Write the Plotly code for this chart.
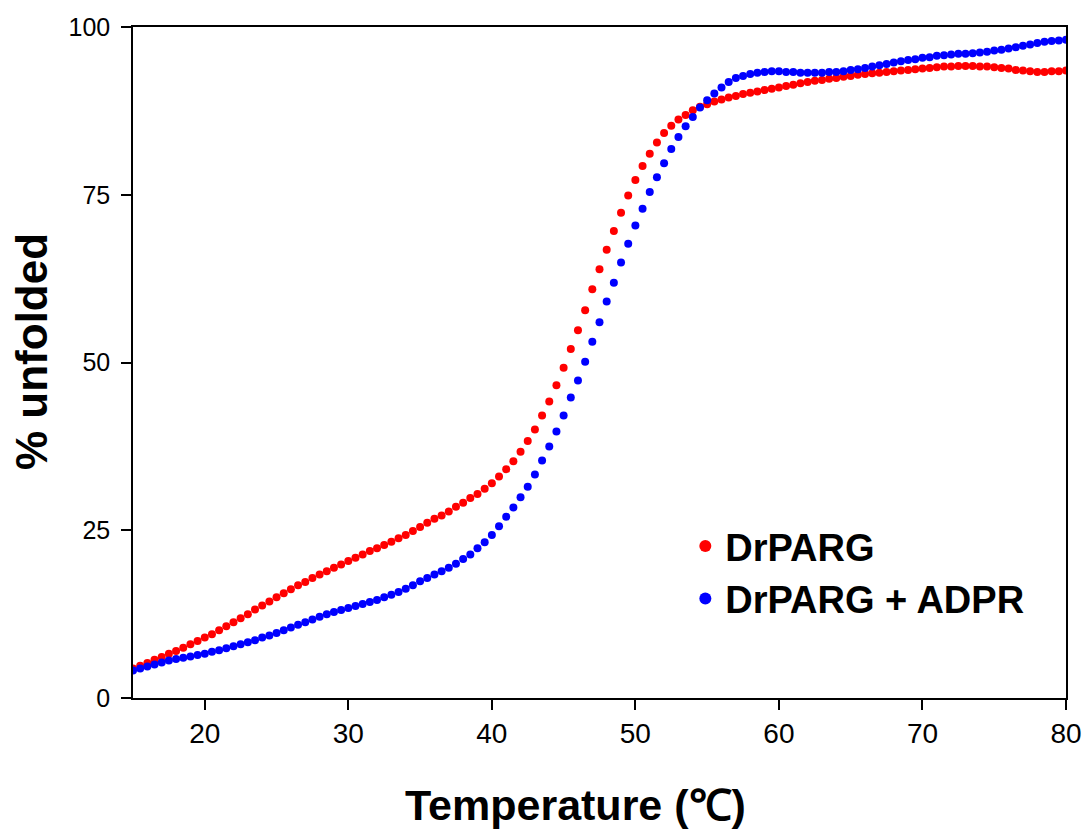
import plotly.graph_objects as go

# Temperature grid (°C), 0.5 °C steps from 15 to 80
temperature = [15 + 0.5 * i for i in range(131)]

drparg = [
    4.4, 4.8, 5.2, 5.7, 6.1, 6.6, 7.0, 7.5, 8.0, 8.5,
    9.0, 9.5, 10.1, 10.7, 11.3, 11.9, 12.5, 13.2, 13.8, 14.4,
    15.0, 15.6, 16.2, 16.8, 17.3, 17.9, 18.4, 18.9, 19.4, 19.9,
    20.4, 20.9, 21.4, 21.9, 22.3, 22.8, 23.3, 23.8, 24.3, 24.9,
    25.5, 26.1, 26.7, 27.2, 27.8, 28.5, 29.1, 29.8, 30.4, 31.2,
    32.0, 33.0, 34.1, 35.3, 36.7, 38.3, 40.0, 42.1, 44.2, 46.6,
    49.2, 52.0, 54.8, 57.8, 60.9, 63.9, 66.8, 69.6, 72.3, 74.9,
    77.2, 79.3, 81.1, 82.8, 84.2, 85.3, 86.2, 86.9, 87.6, 88.1,
    88.5, 88.9, 89.2, 89.5, 89.7, 90.0, 90.2, 90.4, 90.6, 90.8,
    91.0, 91.2, 91.4, 91.6, 91.8, 92.0, 92.1, 92.3, 92.4, 92.6,
    92.7, 92.9, 93.0, 93.1, 93.2, 93.3, 93.4, 93.5, 93.6, 93.7,
    93.8, 93.9, 94.0, 94.1, 94.1, 94.2, 94.2, 94.2, 94.1, 94.1,
    94.0, 93.9, 93.8, 93.6, 93.5, 93.4, 93.3, 93.3, 93.4, 93.4,
    93.5,
]

drparg_adpr = [
    4.1, 4.4, 4.7, 5.0, 5.3, 5.6, 5.8, 6.0, 6.2, 6.4,
    6.6, 6.9, 7.1, 7.4, 7.7, 8.0, 8.3, 8.6, 9.0, 9.3,
    9.7, 10.1, 10.5, 10.9, 11.3, 11.7, 12.1, 12.5, 12.8, 13.1,
    13.4, 13.7, 14.0, 14.3, 14.6, 15.0, 15.4, 15.8, 16.3, 16.8,
    17.4, 17.9, 18.4, 18.9, 19.4, 20.0, 20.7, 21.4, 22.3, 23.2,
    24.3, 25.6, 27.0, 28.4, 29.9, 31.5, 33.3, 35.4, 37.5, 39.7,
    42.1, 44.8, 47.3, 50.1, 53.1, 56.0, 59.1, 61.9, 64.9, 67.7,
    70.4, 72.9, 75.4, 77.6, 79.7, 81.8, 83.6, 85.2, 86.6, 88.0,
    89.1, 90.1, 91.0, 91.8, 92.4, 92.7, 93.0, 93.2, 93.3, 93.4,
    93.4, 93.3, 93.3, 93.2, 93.2, 93.2, 93.2, 93.3, 93.3, 93.4,
    93.6, 93.7, 93.9, 94.1, 94.3, 94.5, 94.7, 94.9, 95.1, 95.2,
    95.4, 95.5, 95.7, 95.8, 95.9, 96.0, 96.0, 96.1, 96.2, 96.3,
    96.5, 96.6, 96.8, 97.0, 97.2, 97.4, 97.6, 97.8, 97.9, 98.0,
    98.1,
]

series_names = ["DrPARG", "DrPARG + ADPR"]
series_colors = ["#FF0000", "#0000FF"]

x_ticks = [20, 30, 40, 50, 60, 70, 80]
y_ticks = [0, 25, 50, 75, 100]

ARIAL = "Liberation Sans, Arial, sans-serif"

fig = go.Figure()
for name, vals, col in zip(series_names, [drparg, drparg_adpr], series_colors):
    fig.add_trace(go.Scatter(
        x=temperature, y=vals, mode="markers", name=name,
        marker=dict(color=col, size=8, line=dict(width=0)),
    ))

fig.update_layout(
    width=1084, height=834,
    margin=dict(l=133, r=18, t=27, b=136, autoexpand=False),
    paper_bgcolor="white", plot_bgcolor="white",
    showlegend=True,
    legend=dict(
        x=0.592, y=0.273, xanchor="left", yanchor="top",
        font=dict(family=ARIAL, size=38, color="black", weight="bold"),
        itemsizing="constant", bgcolor="rgba(0,0,0,0)", tracegroupgap=0,
    ),
    xaxis=dict(
        range=[15, 80], tickvals=x_ticks, ticks="outside", ticklen=10,
        tickwidth=1.5, tickcolor="black", automargin=False,
        ticklabeloverflow="allow",
        showline=True, linecolor="black", linewidth=1.5, mirror=True,
        showgrid=False, zeroline=False,
        tickfont=dict(family=ARIAL, size=28, color="black"),
    ),
    yaxis=dict(
        range=[0, 100], tickvals=y_ticks, ticks="outside", ticklen=10,
        tickwidth=1.5, tickcolor="black", automargin=False,
        ticklabeloverflow="allow",
        showline=True, linecolor="black", linewidth=1.5, mirror=True,
        showgrid=False, zeroline=False,
        tickfont=dict(family=ARIAL, size=25, color="black"),
        ticklabelstandoff=6,
    ),
    annotations=[
        dict(text="% unfolded", xref="paper", yref="paper",
             x=-0.108, y=0.516, xanchor="center", yanchor="middle",
             textangle=-90, showarrow=False,
             font=dict(family=ARIAL, size=44, color="black", weight="bold")),
        dict(text="Temperature (℃)", xref="paper", yref="paper",
             x=0.474, y=-0.159, xanchor="center", yanchor="middle",
             showarrow=False,
             font=dict(family=ARIAL, size=43, color="black", weight="bold")),
    ],
)

fig.write_html(
    "out.html",
    config={"displayModeBar": False},
    post_script="document.body.style.margin='0';document.body.style.padding='0';document.body.style.overflow='hidden';",
)
